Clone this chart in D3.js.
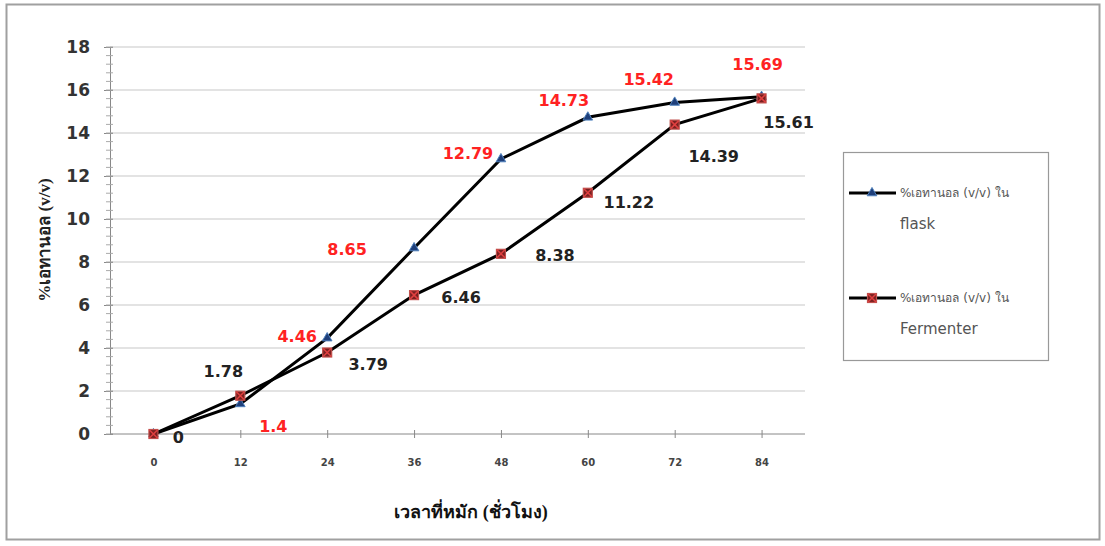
<!DOCTYPE html>
<html><head><meta charset="utf-8">
<script src="https://cdn.jsdelivr.net/npm/d3@7"></script>
<style>body{margin:0;background:#fff}</style>
</head><body>
<svg id="c" width="1105" height="546"></svg>
<script>
const hours = [0, 12, 24, 36, 48, 60, 72, 84];
const flask = [0, 1.4, 4.46, 8.65, 12.79, 14.73, 15.42, 15.69];
const fermenter = [0, 1.78, 3.79, 6.46, 8.38, 11.22, 14.39, 15.61];
const yTicks = [0, 2, 4, 6, 8, 10, 12, 14, 16, 18];
const seriesNames = ["%เอทานอล (v/v) ใน", "%เอทานอล (v/v) ใน"];
const seriesSub = ["flask", "Fermenter"];
const yTitle = "%เอทานอล (v/v)";
const xTitle = "เวลาที่หมัก (ชั่วโมง)";
// label offsets (layout only)
const flaskLabelOff = [null, [33, 23], [-30, -2], [-67, 1], [-33, -6], [-24, -17], [-26, -23], [-4, -32]];
const fermLabelOff = [[25, 3], [-17, -24], [41, 12], [47, 2], [54, 2], [41, 10], [39, 32], [27, 24]];

const svg = d3.select("#c");
svg.append("rect").attr("x", 6.5).attr("y", 4.5).attr("width", 1093).attr("height", 535)
  .attr("fill", "#fff").attr("stroke", "#a0a0a0").attr("stroke-width", 2);

const x = d3.scaleBand().domain(hours).range([110, 805]);
const cx = h => x(h) + x.bandwidth() / 2;
const y = d3.scaleLinear().domain([0, 18]).range([434, 47]);

// gridlines
svg.append("g").selectAll("line").data(yTicks.filter(d => d > 0)).join("line")
  .attr("x1", 110).attr("x2", 805).attr("y1", d => y(d)).attr("y2", d => y(d))
  .attr("stroke", "#c8c8c8").attr("stroke-width", 1.2);

// y axis
const yAxis = d3.axisLeft(y).tickValues(yTicks).tickSize(6).tickFormat(d3.format("d"));
const gy = svg.append("g").attr("transform", "translate(110,0)").call(yAxis);
gy.select(".domain").attr("stroke", "#888");
gy.selectAll(".tick line").attr("stroke", "#888").attr("x2", 3).attr("x1", -6);
gy.selectAll(".tick text").attr("font-family", "DejaVu Sans").attr("font-weight", "bold")
  .attr("font-size", 17).attr("fill", "#333").attr("x", -20);
// minor ticks
svg.append("g").selectAll("line").data(d3.range(0, 18.001, 0.4)).join("line")
  .attr("x1", 106).attr("x2", 113).attr("y1", d => y(d)).attr("y2", d => y(d))
  .attr("stroke", "#aaa").attr("stroke-width", 1);

// x axis
const xAxis = d3.axisBottom(d3.scalePoint().domain(hours).range([cx(0), cx(84)])).tickSize(5).tickPadding(20);
const gx = svg.append("g").attr("transform", "translate(0,434)").call(xAxis);
gx.select(".domain").remove();
svg.append("line").attr("x1", 110).attr("x2", 805).attr("y1", 434).attr("y2", 434).attr("stroke", "#888");
gx.selectAll(".tick line").attr("stroke", "#888").attr("y1", -4).attr("y2", 4);
gx.selectAll(".tick text").attr("font-family", "DejaVu Sans").attr("font-weight", "bold")
  .attr("font-size", 10).attr("fill", "#444");

// lines
const line = d3.line().x((d, i) => cx(hours[i])).y(d => y(d));
svg.append("path").datum(flask).attr("d", line).attr("fill", "none").attr("stroke", "#000").attr("stroke-width", 3);
svg.append("path").datum(fermenter).attr("d", line).attr("fill", "none").attr("stroke", "#000").attr("stroke-width", 3);

function tri(g, px, py) {
  g.append("path").attr("d", d3.symbol(d3.symbolTriangle, 40)())
    .attr("transform", `translate(${px},${py})`).attr("fill", "#1f3f7a").attr("stroke", "#4f81bd").attr("stroke-width", 1);
}
function sq(g, px, py) {
  g.append("rect").attr("x", px - 4.5).attr("y", py - 4.5).attr("width", 9).attr("height", 9)
    .attr("fill", "#7a2020").attr("stroke", "#c0504d").attr("stroke-width", 1.2);
  g.append("path").attr("d", `M${px-4},${py-4}L${px+4},${py+4}M${px+4},${py-4}L${px-4},${py+4}`)
    .attr("stroke", "#e04040").attr("stroke-width", 1.5);
}
const mk = svg.append("g");
flask.forEach((v, i) => tri(mk, cx(hours[i]), y(v)));
fermenter.forEach((v, i) => sq(mk, cx(hours[i]), y(v)));

// data labels
const lab = svg.append("g").attr("font-family", "DejaVu Sans").attr("font-weight", "bold")
  .attr("font-size", 16).attr("text-anchor", "middle").attr("dominant-baseline", "central");
flask.forEach((v, i) => {
  const o = flaskLabelOff[i]; if (!o) return;
  lab.append("text").attr("x", cx(hours[i]) + o[0]).attr("y", y(v) + o[1]).attr("fill", "#ff2222").text(v);
});
fermenter.forEach((v, i) => {
  const o = fermLabelOff[i];
  lab.append("text").attr("x", cx(hours[i]) + o[0]).attr("y", y(v) + o[1]).attr("fill", "#222").text(v);
});

// axis titles
svg.append("text").attr("transform", "translate(44,240) rotate(-90)").attr("text-anchor", "middle")
  .attr("dominant-baseline", "central").attr("font-family", "Liberation Serif, serif").attr("font-weight", "bold")
  .attr("font-size", 17).attr("fill", "#222").text(yTitle);
svg.append("text").attr("x", 471).attr("y", 512).attr("text-anchor", "middle")
  .attr("dominant-baseline", "central").attr("font-family", "Liberation Serif, serif").attr("font-weight", "bold")
  .attr("font-size", 18).attr("fill", "#111").text(xTitle);

// legend
svg.append("rect").attr("x", 843.5).attr("y", 152.5).attr("width", 205).attr("height", 208)
  .attr("fill", "#fff").attr("stroke", "#999").attr("stroke-width", 1.2);
const legY = [193, 298];
legY.forEach((ly, i) => {
  svg.append("line").attr("x1", 849).attr("x2", 896).attr("y1", ly).attr("y2", ly).attr("stroke", "#000").attr("stroke-width", 3);
  if (i === 0) tri(svg, 872, ly); else sq(svg, 872, ly);
  svg.append("text").attr("x", 900).attr("y", ly).attr("dominant-baseline", "central")
    .attr("font-family", "DejaVu Sans").attr("font-size", 12).attr("fill", "#555").text(seriesNames[i]);
  svg.append("text").attr("x", 900).attr("y", ly + 31).attr("dominant-baseline", "central")
    .attr("font-family", "DejaVu Sans").attr("font-size", 15).attr("fill", "#555").text(seriesSub[i]);
});
</script>
</body></html>
